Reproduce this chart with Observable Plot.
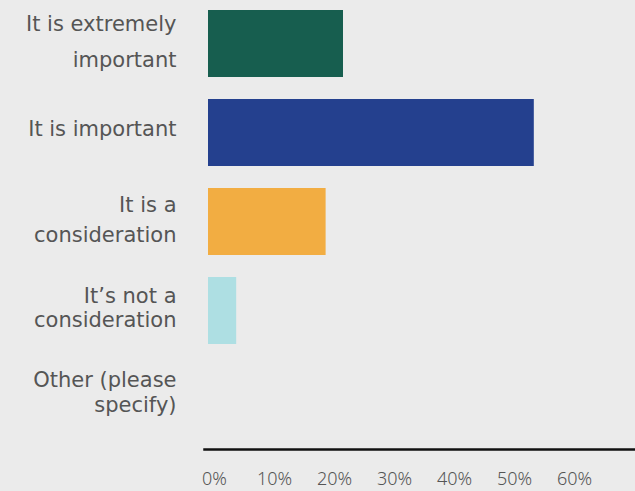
<!DOCTYPE html>
<html>
<head>
<meta charset="utf-8">
<script src="https://cdn.jsdelivr.net/npm/d3@7"></script>
<script src="https://cdn.jsdelivr.net/npm/@observablehq/plot@0.6"></script>
<style>
  html, body { margin: 0; padding: 0; background: #ebebeb; }
  #chart svg { display: block; }
</style>
</head>
<body>
<div id="chart"></div>
<script>
const categories = ["It is extremely important", "It is important", "It is a consideration", "It’s not a consideration", "Other (please specify)"];
const labelLines = ["It is extremely\nimportant", "It is important", "It is a\nconsideration", "It’s not a\nconsideration", "Other (please\nspecify)"];
const values = [22.5, 54.3, 19.6, 4.7, 0];
const colors = ["#175e4f", "#24408e", "#f2ad42", "#aedfe3", "#999999"];
const ticks = [0, 10, 20, 30, 40, 50, 60];

const data = categories.map((c, i) => ({category: c, label: labelLines[i], value: values[i], color: colors[i]}));

const lineHeights = [36 / 21, 1, 30 / 21, 24 / 21, 25 / 21];
const dys = [-7, -3.4, -4.2, -3.5, -8.8];

const labelMarks = data.map((d, i) => Plot.text([d], {
  y: "category", text: "label", frameAnchor: "left", textAnchor: "end",
  dx: -28, dy: dys[i], lineHeight: lineHeights[i], fontSize: 21, fill: "#555555",
  fontFamily: "'DejaVu Sans', sans-serif"
}));

const chart = Plot.plot({
  width: 635,
  height: 491,
  marginLeft: 204,
  marginRight: 0,
  marginTop: 0,
  marginBottom: 42,
  style: {background: "#ebebeb", fontFamily: "'Noto Sans', sans-serif"},
  x: {domain: [0, 70], range: [208, 628], axis: null},
  y: {domain: categories, range: [0, 444], paddingInner: 0.2444, paddingOuter: 0.089, axis: null},
  marks: [
    Plot.barX(data, {y: "category", x: "value", fill: "color"}),
    ...labelMarks,
    Plot.frame({anchor: "bottom", stroke: "#111111", strokeWidth: 2.5}),
    Plot.axisX(ticks, {anchor: "bottom", label: null, tickSize: 0, tickPadding: 23, dx: 6, fontSize: 18, fontWeight: 300, fill: "#555555", tickFormat: d => d + "%"})
  ]
});
document.getElementById("chart").appendChild(chart);
</script>
</body>
</html>
